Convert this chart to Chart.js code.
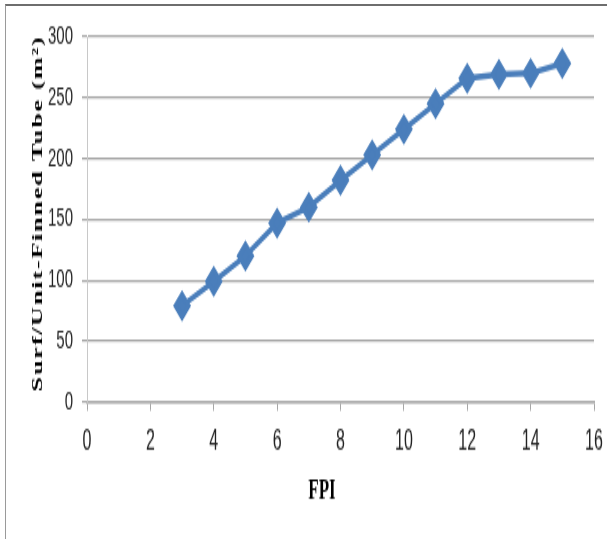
<!DOCTYPE html>
<html>
<head>
<meta charset="utf-8">
<script src="https://cdn.jsdelivr.net/npm/chart.js@4/dist/chart.umd.min.js"></script>
<style>
  html, body { margin: 0; padding: 0; background: #fff; }
  body { width: 607px; height: 539px; position: relative; overflow: hidden; }
  #wrap { position: absolute; left: 0; top: 0; width: 607px; height: 308px; transform: scaleY(1.75); transform-origin: 0 0; }
  #frame { position: absolute; left: 5px; top: 4px; width: 610px; height: 533px;
           border-top: 2px solid #6e6e6e; border-left: 1px solid #9a9a9a; border-bottom: 1px solid #b8b8b8; }
</style>
</head>
<body>
<div id="wrap"><canvas id="chart" width="607" height="308"></canvas></div>
<div id="frame"></div>
<script>
const FPI = [3, 4, 5, 6, 7, 8, 9, 10, 11, 12, 13, 14, 15];
const SURFACE = [79, 99, 120, 147, 160, 182, 203, 224, 245, 266, 269, 270, 278];
const X_TITLE = "FPI";
const Y_TITLE = "Surf/Unit-Finned Tube (m²)";

const BLUE = "#4a7ebb";
const GRID = "#a6a6a6";

// titles are drawn by hand so they can sit where the original put them
const axisTitles = {
  id: "axisTitles",
  afterDraw(chart) {
    const ctx = chart.ctx;
    ctx.save();
    ctx.fillStyle = "#000";
    ctx.textAlign = "center";
    ctx.textBaseline = "middle";
    ctx.font = "bold 17px 'Liberation Serif', serif";
    ctx.fillText(X_TITLE, 322, 281);

    ctx.translate(38, 122);
    ctx.rotate(-Math.PI / 2);
    ctx.font = "bold 15px 'Liberation Serif', serif";
    ctx.letterSpacing = "1px";
    ctx.fillText(Y_TITLE, 0, 0);
    ctx.restore();
  }
};

new Chart(document.getElementById("chart"), {
  type: "line",
  data: {
    datasets: [{
      data: FPI.map((x, i) => ({ x: x, y: SURFACE[i] })),
      borderColor: BLUE,
      backgroundColor: BLUE,
      borderWidth: 3.5,
      pointStyle: "rectRot",
      pointRadius: 6.5,
      pointHoverRadius: 6.5,
      tension: 0
    }]
  },
  options: {
    responsive: false,
    animation: false,
    devicePixelRatio: 1,
    layout: { padding: { left: 0, right: 13, top: 21, bottom: 0 } },
    plugins: { legend: { display: false }, tooltip: { enabled: false } },
    scales: {
      x: {
        type: "linear",
        min: 0,
        max: 16,
        afterFit: s => { s.height = 78.3; s.paddingRight = 0; },
        ticks: { stepSize: 2, padding: 8, color: "#222", font: { family: "'Liberation Sans Narrow', 'Liberation Sans', sans-serif", size: 16 } },
        grid: { drawOnChartArea: false, drawTicks: true, tickLength: 5, color: GRID, lineWidth: 1 },
        border: { color: GRID, width: 1.5 }
      },
      y: {
        min: 0,
        max: 300,
        afterFit: s => { s.width = 87; },
        ticks: { stepSize: 50, padding: 9, color: "#222", font: { family: "'Liberation Sans Narrow', 'Liberation Sans', sans-serif", size: 15 } },
        grid: { color: GRID, lineWidth: 1.2, tickLength: 5 },
        border: { color: "#c8c8c8", width: 1 }
      }
    }
  },
  plugins: [axisTitles]
});
</script>
</body>
</html>
